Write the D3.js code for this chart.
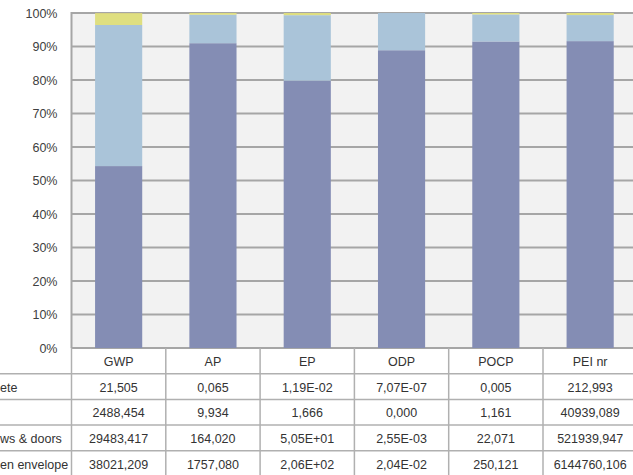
<!DOCTYPE html>
<html>
<head>
<meta charset="utf-8">
<script src="https://cdn.jsdelivr.net/npm/d3@7"></script>
<style>
  html, body { margin: 0; padding: 0; background: #ffffff; }
  svg { display: block; font-family: "Liberation Sans", Arial, sans-serif; }
</style>
</head>
<body>
<svg id="chart" width="633" height="475"></svg>
<script>
// Impact categories (columns) and the per-component results shown in the data table
const categories = ["GWP", "AP", "EP", "ODP", "POCP", "PEI nr"];
const rowLabels = ["ete", "", "ws & doors", "en envelope"];
const row1Text = ["21,505", "0,065", "1,19E-02", "7,07E-07", "0,005", "212,993"];
const row2Text = ["2488,454", "9,934", "1,666", "0,000", "1,161", "40939,089"];
const row3Text = ["29483,417", "164,020", "5,05E+01", "2,55E-03", "22,071", "521939,947"];
const row4Text = ["38021,209", "1757,080", "2,06E+02", "2,04E-02", "250,121", "6144760,106"];
const yTicks = [0, 0.1, 0.2, 0.3, 0.4, 0.5, 0.6, 0.7, 0.8, 0.9, 1];

const tableRows = [row1Text, row2Text, row3Text, row4Text];
const parseEU = s => +s.replace(",", ".");
const keys = ["r1", "r2", "r3", "r4"];

// one record per category with numeric values for each component
const data = categories.map((c, i) => {
  const d = { category: c };
  keys.forEach((k, r) => { d[k] = parseEU(tableRows[r][i]); });
  return d;
});

// bottom-to-top stacking order
const stackKeys = ["r4", "r3", "r2", "r1"];
const colors = { r4: "#848db4", r3: "#aac4d9", r2: "#dfdf80", r1: "#c9a27a" };

const svg = d3.select("#chart");
const plot = { left: 71.5, top: 13, bottom: 348 };
const bandW = 94.3;

const x = d3.scaleBand()
  .domain(categories)
  .range([plot.left, plot.left + bandW * categories.length])
  .paddingInner(0.5)
  .paddingOuter(0.25);

const y = d3.scaleLinear().domain([0, 1]).range([plot.bottom, plot.top]);

// plot background
svg.append("rect")
  .attr("x", plot.left).attr("y", plot.top)
  .attr("width", 633 - plot.left).attr("height", plot.bottom - plot.top)
  .attr("fill", "#f2f2f2");

// horizontal gridlines
svg.append("g").selectAll("line")
  .data(yTicks)
  .join("line")
  .attr("x1", plot.left).attr("x2", 633)
  .attr("y1", d => y(d)).attr("y2", d => y(d))
  .attr("stroke", "#a6a6a6").attr("stroke-width", 2);

// percentage axis labels
const yAxis = d3.axisLeft(y).tickValues(yTicks).tickFormat(d3.format(".0%")).tickSize(0).tickPadding(14);
const gy = svg.append("g").attr("transform", `translate(${plot.left},0)`).call(yAxis);
gy.select(".domain").remove();
gy.selectAll("text")
  .attr("fill", "#404040")
  .style("font-size", "12.5px")
  .style("font-family", "Liberation Sans, Arial, sans-serif");

// stacked 100% columns
const stacked = d3.stack().keys(stackKeys).offset(d3.stackOffsetExpand)(data);
svg.append("g").selectAll("g")
  .data(stacked)
  .join("g")
  .attr("fill", s => colors[s.key])
  .selectAll("rect")
  .data(s => s)
  .join("rect")
  .attr("x", d => x(d.data.category))
  .attr("width", x.bandwidth())
  .attr("y", d => y(d[1]))
  .attr("height", d => Math.max(0, y(d[0]) - y(d[1])));

// left axis line
svg.append("line")
  .attr("x1", plot.left).attr("x2", plot.left)
  .attr("y1", plot.top - 1).attr("y2", plot.bottom)
  .attr("stroke", "#a6a6a6").attr("stroke-width", 2);

// data table under the columns
const rowH = 25.7;
const table = svg.append("g");
const colEdges = d3.range(categories.length + 1).map(i => plot.left + i * bandW);

// horizontal rules
table.selectAll("line.h")
  .data(d3.range(tableRows.length + 1).map(i => plot.bottom + rowH * (i + 1)))
  .join("line")
  .attr("class", "h")
  .attr("x1", 0).attr("x2", 633)
  .attr("y1", d => d).attr("y2", d => d)
  .attr("stroke", "#b0b0b0").attr("stroke-width", 1.5);

// vertical rules
table.selectAll("line.v")
  .data(colEdges)
  .join("line")
  .attr("class", "v")
  .attr("x1", d => d).attr("x2", d => d)
  .attr("y1", plot.bottom).attr("y2", 475)
  .attr("stroke", "#b0b0b0").attr("stroke-width", 1.5);

const cellFont = t => t.attr("fill", "#333333").style("font-size", "12.5px").attr("dominant-baseline", "central");

// column headers
table.selectAll("text.head")
  .data(categories)
  .join("text")
  .attr("class", "head")
  .attr("x", d => x(d) + x.bandwidth() / 2)
  .attr("y", plot.bottom + rowH / 2 + 1)
  .attr("text-anchor", "middle")
  .text(d => d)
  .call(cellFont);

// series labels (left column)
table.selectAll("text.rowlab")
  .data(rowLabels)
  .join("text")
  .attr("class", "rowlab")
  .attr("x", 0)
  .attr("y", (d, i) => plot.bottom + rowH * (i + 1) + rowH / 2 + 1)
  .attr("text-anchor", "start")
  .text(d => d)
  .call(cellFont);

// cell values
tableRows.forEach((row, r) => {
  table.append("g").selectAll("text")
    .data(row)
    .join("text")
    .attr("x", (d, i) => x(categories[i]) + x.bandwidth() / 2)
    .attr("y", plot.bottom + rowH * (r + 1) + rowH / 2 + 1)
    .attr("text-anchor", "middle")
    .text(d => d)
    .call(cellFont);
});
</script>
</body>
</html>
